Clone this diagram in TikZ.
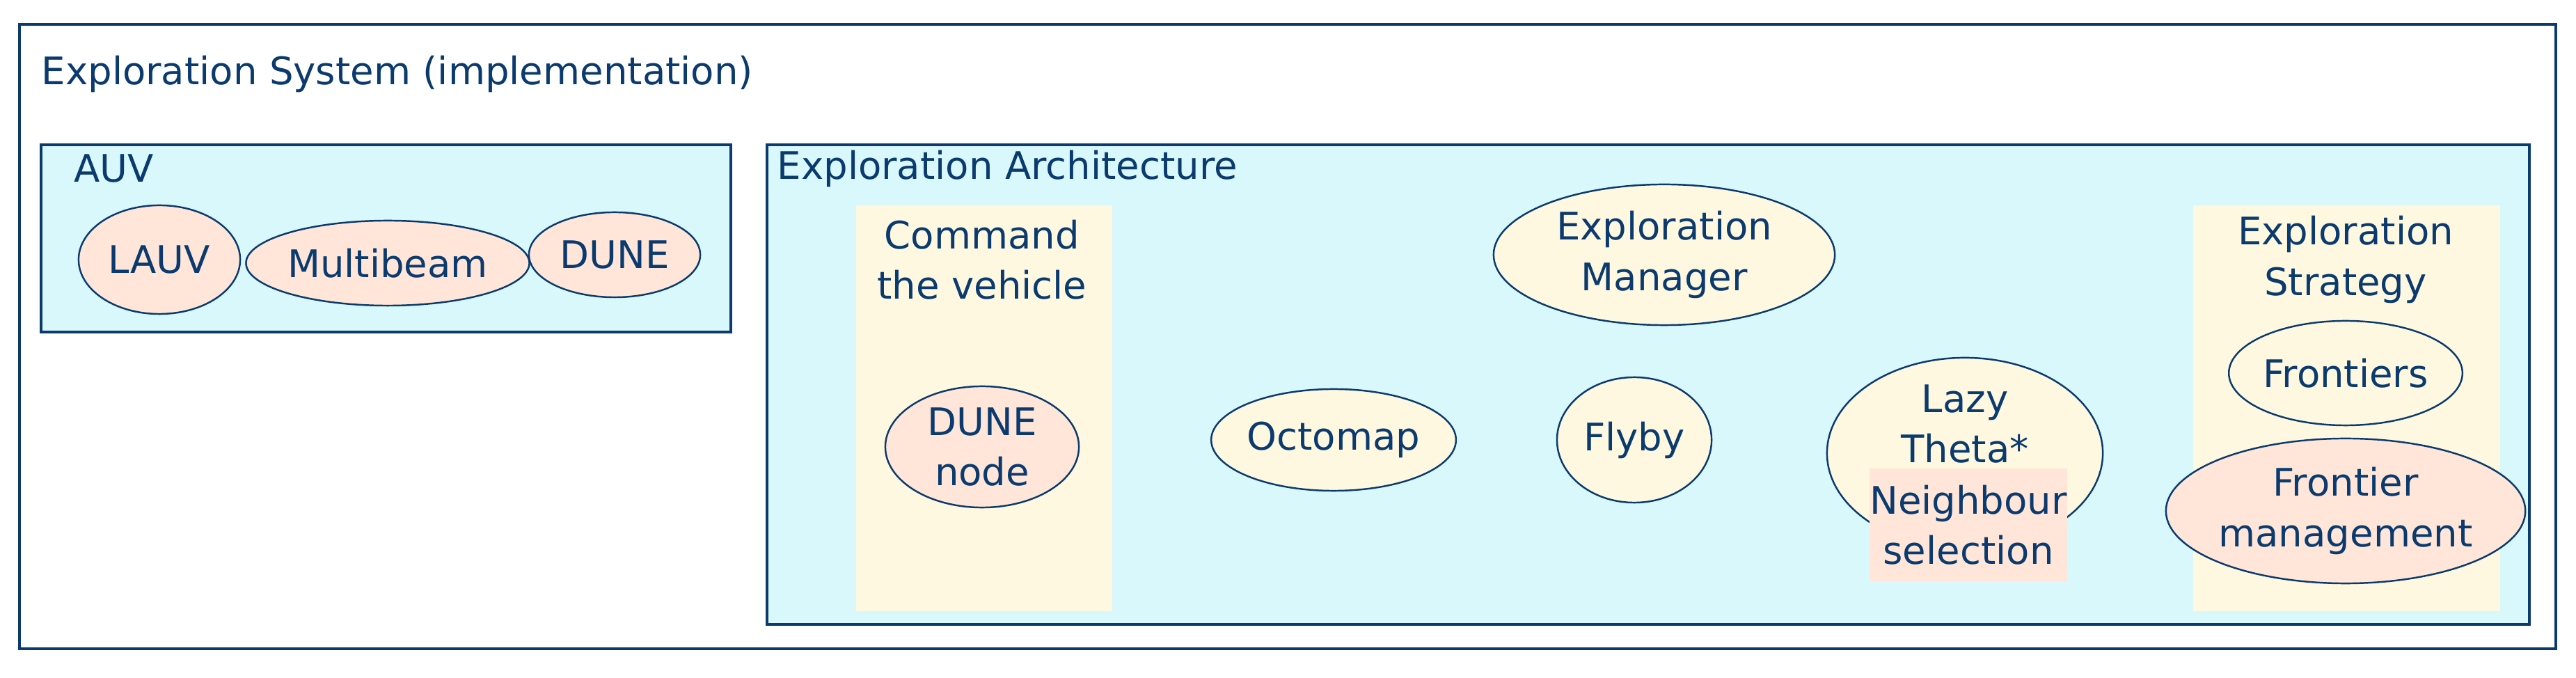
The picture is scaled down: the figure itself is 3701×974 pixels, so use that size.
\documentclass[tikz,border=0pt]{standalone}
\usepackage{fontspec}
\setmainfont{DejaVu Sans}
\usetikzlibrary{shapes.geometric}
\definecolor{tx}{HTML}{0B3B6E}
\definecolor{cy}{HTML}{D8F8FC}
\definecolor{cr}{HTML}{FFF8E0}
\definecolor{pe}{HTML}{FFE6D8}
\begin{document}
\begin{tikzpicture}[x=0.01cm,y=-0.01cm,
  every node/.style={text=tx,font=\fontsize{15.5}{20.5}\selectfont,align=center},
  box/.style={draw=tx,line width=1pt},
  el/.style={ellipse,draw=tx,line width=0.7pt,inner sep=0pt},
  lbl/.style={anchor=base west,inner sep=0pt}]
\useasboundingbox (0,0) rectangle (3701,974);
\draw[box,fill=white] (28,35) rectangle (3672,932);
\node[lbl] (t) at (59,122) {Exploration System (implementation)};
\draw[box,fill=cy] (59,208) rectangle (1050,477);
\node[lbl] (auv) at (106,262) {AUV};
\node[el,fill=pe,minimum width=2.32cm,minimum height=1.56cm] (lauv) at (229,373) {LAUV};
\node[el,fill=pe,minimum width=3.5cm,minimum height=1.22cm] (mb) at (557,378) {Multibeam};
\node[el,fill=pe,minimum width=2.46cm,minimum height=1.22cm] (dune) at (883,366) {DUNE};
\draw[box,fill=cy] (1102,208) rectangle (3634,897);
\node[lbl] (arch) at (1116,258) {Exploration Architecture};
\fill[cr] (1230,295) rectangle (1598,878);
\node (cmd) at (1411,373) {Command\\the vehicle};
\node[el,fill=pe,minimum width=2.78cm,minimum height=1.74cm] (dn) at (1411,642) {DUNE\\node};
\node[el,fill=cr,minimum width=3.12cm,minimum height=1.46cm] (oct) at (1916,632) {Octomap};
\node[el,fill=cr,minimum width=4.9cm,minimum height=2.02cm] (em) at (2391,366) {Exploration\\Manager};
\node[el,fill=cr,minimum width=2.22cm,minimum height=1.8cm] (fly) at (2348,632) {Flyby};
\node[el,fill=cr,minimum width=3.96cm,minimum height=2.74cm] (lt) at (2823,651) {};
\node (ltt) at (2823,609) {Lazy\\Theta*};
\node[fill=pe,minimum width=2.83cm,minimum height=1.62cm,inner sep=0pt] (ns) at (2828,754) {Neighbour\\selection};
\fill[cr] (3151,295) rectangle (3592,878);
\node (strat) at (3370,373) {Exploration\\Strategy};
\node[el,fill=cr,minimum width=3.06cm,minimum height=1.5cm] (fr) at (3370,536) {Frontiers};
\node[el,fill=pe,minimum width=3.96cm,minimum height=2.08cm] (fm) at (3370,734) {Frontier\\management};
\end{tikzpicture}
\end{document}
